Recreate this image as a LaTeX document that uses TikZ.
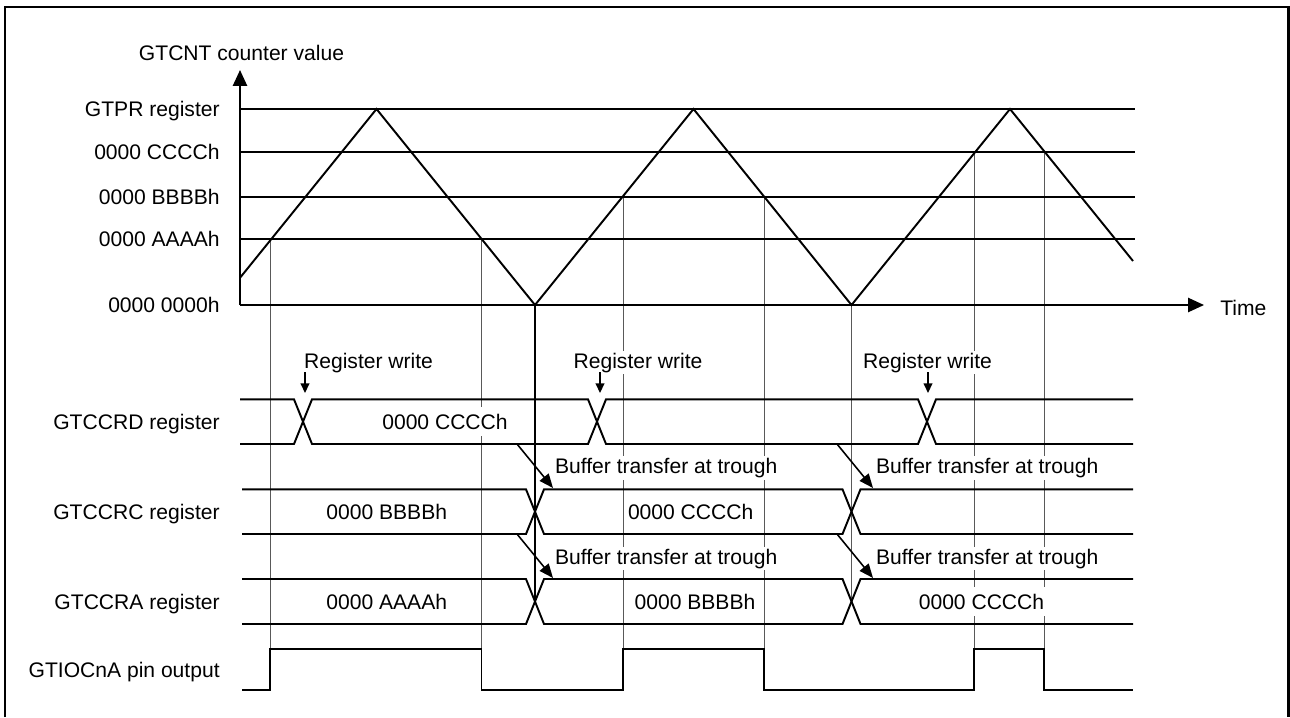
\documentclass[tikz,border=0pt]{standalone}
\usepackage{fontspec}
\setmainfont{Liberation Sans}
\usepackage{tikz}
\usetikzlibrary{arrows.meta,positioning}
\tikzset{
  sig/.style={line width=1.1pt,line join=miter},
  guide/.style={line width=0.55pt,draw=black!65},
  axis/.style={-{Triangle[length=9pt,width=8pt]},line width=1.1pt},
  xfer/.style={-{Triangle[length=8pt,width=6.5pt]},line width=0.9pt},
  wr/.style={-{Triangle[length=5.5pt,width=5pt]},line width=0.8pt},
  lbl/.style={inner sep=0pt,anchor=base east},
  val/.style={fill=white,inner xsep=2pt,inner ysep=4pt,anchor=base},
  note/.style={fill=white,inner sep=1pt,anchor=base west}
}

\begin{document}
\begin{tikzpicture}[x=0.02cm,y=-0.02cm,font=\fontsize{12pt}{14pt}\selectfont]
\useasboundingbox (0,0) rectangle (1290,717);
\draw[line width=1.7pt] (5,717) -- (5,7) -- (1288,7) -- (1288,717);
\node[inner sep=0pt,anchor=base] (ylbl) at (241.5,60.5) {GTCNT counter value};
\node[lbl] (pr) at (220,116.5) {GTPR register};
\node[lbl] (lc) at (220,159.2) {0000 CCCCh};
\node[lbl] (lb) at (220,204.2) {0000 BBBBh};
\node[lbl] (la) at (220,246.5) {0000 AAAAh};
\node[lbl] (l0) at (220,312.5) {0000 0000h};
\node[inner sep=0pt,anchor=base west] (tlbl) at (1220,315.5) {Time};
\node[lbl] (rd) at (220,429.2) {GTCCRD register};
\node[lbl] (rc) at (220,519.2) {GTCCRC register};
\node[lbl] (ra) at (220,609) {GTCCRA register};
\node[lbl] (io) at (220,677) {GTIOCnA pin output};
\draw[guide] (270,239) -- (270,649); \draw[guide] (481.5,239) -- (481.5,649);
\draw[guide] (623,196.7) -- (623,649); \draw[guide] (764,196.7) -- (764,649);
\draw[guide] (974,151.7) -- (974,649); \draw[guide] (1044,151.7) -- (1044,649);
\draw[guide] (851.5,305) -- (851.5,601.5);
\node[note] (w1) at (302,368) {Register write};
\node[note] (w2) at (571.5,368) {Register write};
\node[note] (w3) at (861,368) {Register write};
\node[note] (b1) at (553,473.5) {Buffer transfer at trough};
\node[note] (b2) at (874,473.5) {Buffer transfer at trough};
\node[note] (b3) at (553,564) {Buffer transfer at trough};
\node[note] (b4) at (874,564) {Buffer transfer at trough};
\node[val] (d1) at (445,429.2) {0000 CCCCh};
\node[val] (c1) at (386.7,519.2) {0000 BBBBh};
\node[val] (c2) at (690.7,519.2) {0000 CCCCh};
\node[val] (a1) at (386.7,609) {0000 AAAAh};
\node[val] (a2) at (695,609) {0000 BBBBh};
\node[val] (a3) at (981.5,609) {0000 CCCCh};
\draw[sig] (240,109) -- (1135,109); \draw[sig] (240,151.7) -- (1135,151.7);
\draw[sig] (240,196.7) -- (1135,196.7); \draw[sig] (240,239) -- (1135,239);
\draw[axis] (240,305) -- (240,70); \draw[axis] (240,305) -- (1204,305);
\draw[sig] (240,277.8) -- (376.5,109) -- (535,305) -- (693.5,109) -- (851.5,305) -- (1010,109) -- (1133,261);
\draw[sig] (535,305) -- (535,601.5);
\draw[sig] (240,399.3) -- (294,399.3) -- (312,444) -- (588,444) -- (606,399.3) -- (918,399.3) -- (936,444) -- (1133,444);
\draw[sig] (240,444) -- (294,444) -- (312,399.3) -- (588,399.3) -- (606,444) -- (918,444) -- (936,399.3) -- (1133,399.3);
\draw[sig] (242,489.3) -- (526,489.3) -- (544,534) -- (842.5,534) -- (860.5,489.3) -- (1133,489.3);
\draw[sig] (242,534) -- (526,534) -- (544,489.3) -- (842.5,489.3) -- (860.5,534) -- (1133,534);
\draw[sig] (242,579) -- (526,579) -- (544,624) -- (842.5,624) -- (860.5,579) -- (1133,579);
\draw[sig] (242,624) -- (526,624) -- (544,579) -- (842.5,579) -- (860.5,624) -- (1133,624);
\draw[sig] (242,690) -- (270,690) -- (270,649) -- (481.5,649) -- (481.5,690) -- (623,690) -- (623,649) -- (764,649) -- (764,690) -- (974,690) -- (974,649) -- (1044,649) -- (1044,690) -- (1133,690);
\draw[wr] (305,372) -- (305,393); \draw[wr] (600,372) -- (600,393); \draw[wr] (928,372) -- (928,393);
\draw[xfer] (517,444) -- (553,488); \draw[xfer] (517,534) -- (553,578);
\draw[xfer] (837,444) -- (873,488); \draw[xfer] (837,534) -- (873,578);
\end{tikzpicture}
\end{document}
